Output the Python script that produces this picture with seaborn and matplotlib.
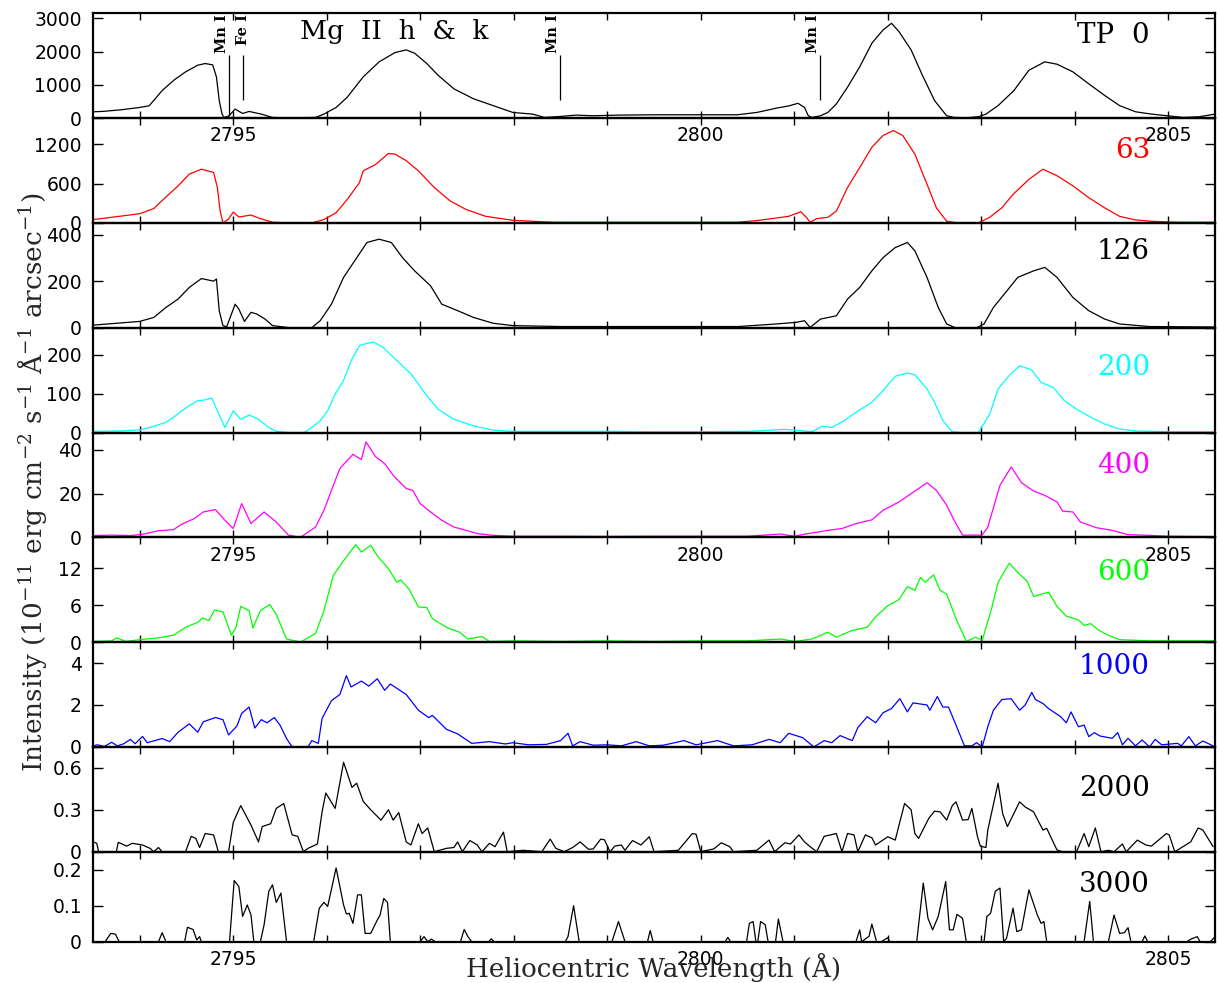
import matplotlib
matplotlib.use("Agg")
import matplotlib.pyplot as plt
from matplotlib.ticker import MultipleLocator, FixedLocator, FuncFormatter
import matplotlib.transforms as mtransforms
import seaborn as sns

# ---------------- data ----------------
wl0 = [2793.50, 2793.60, 2793.80, 2794.00, 2794.10, 2794.15, 2794.24, 2794.37, 2794.49, 2794.62,
       2794.70, 2794.78, 2794.82, 2794.85, 2794.88, 2794.90, 2794.95, 2795.02, 2795.10, 2795.17,
       2795.30, 2795.42, 2795.60, 2795.88, 2795.97, 2796.10, 2796.22, 2796.39, 2796.56, 2796.73,
       2796.85, 2796.94, 2797.07, 2797.19, 2797.36, 2797.57, 2797.78, 2797.99, 2798.20, 2798.33,
       2798.50, 2798.67, 2798.84, 2799.12, 2799.50, 2800.00, 2800.39, 2800.60, 2800.81, 2800.94,
       2801.04, 2801.11, 2801.15, 2801.19, 2801.28, 2801.36, 2801.45, 2801.57, 2801.70, 2801.83,
       2801.95, 2802.04, 2802.12, 2802.25, 2802.37, 2802.50, 2802.63, 2802.71, 2802.85, 2802.97,
       2803.05, 2803.18, 2803.35, 2803.51, 2803.68, 2803.81, 2803.98, 2804.15, 2804.32, 2804.48,
       2804.65, 2804.82, 2804.99, 2805.16, 2805.33, 2805.50]
flux0 = [190, 200, 250, 320, 370, 530, 830, 1150, 1390, 1590,
         1640, 1600, 1240, 530, 120, 20, 60, 270, 140, 200,
         120, 20, 5, 20, 120, 320, 630, 1240, 1690, 1970,
         2050, 1950, 1640, 1290, 880, 580, 375, 170, 120, 20,
         50, 90, 70, 90, 100, 100, 100, 170, 300, 365,
         445, 320, 70, 20, 70, 170, 425, 930, 1540, 2250,
         2650, 2850, 2600, 2050, 1290, 530, 70, 20, 10, 40,
         120, 375, 830, 1440, 1690, 1620, 1390, 1030, 680, 375,
         190, 120, 70, 20, 40, 120]

wl1 = [2793.50, 2794.00, 2794.15, 2794.28, 2794.41, 2794.53, 2794.66, 2794.79, 2794.83, 2794.86,
       2794.89, 2794.95, 2795.00, 2795.06, 2795.19, 2795.29, 2795.42, 2795.60, 2795.84, 2795.97,
       2796.10, 2796.22, 2796.35, 2796.39, 2796.52, 2796.66, 2796.73, 2796.85, 2796.98, 2797.15,
       2797.32, 2797.49, 2797.70, 2797.99, 2798.42, 2799.00, 2800.00, 2800.39, 2800.60, 2800.81,
       2800.94, 2801.07, 2801.13, 2801.17, 2801.24, 2801.36, 2801.45, 2801.57, 2801.70, 2801.83,
       2801.95, 2802.06, 2802.16, 2802.29, 2802.42, 2802.52, 2802.63, 2802.75, 2802.97, 2803.09,
       2803.22, 2803.34, 2803.51, 2803.66, 2803.81, 2803.98, 2804.15, 2804.32, 2804.48, 2804.65,
       2804.82, 2805.10, 2805.50]
flux1 = [50, 140, 220, 395, 565, 745, 820, 770, 540, 180,
         0, 60, 165, 90, 120, 65, 10, 0, 0, 50,
         155, 360, 615, 795, 890, 1060, 1050, 950, 795, 540,
         335, 205, 100, 40, 10, 10, 10, 10, 35, 75,
         100, 170, 85, 10, 65, 85, 180, 540, 845, 1155,
         1335, 1410, 1335, 1050, 590, 230, 25, 0, 0, 85,
         230, 435, 665, 820, 720, 565, 385, 230, 100, 45,
         25, 10, 10]

wl2 = [2793.50, 2794.00, 2794.15, 2794.28, 2794.41, 2794.53, 2794.66, 2794.79, 2794.82, 2794.85,
       2794.89, 2794.93, 2795.02, 2795.06, 2795.12, 2795.19, 2795.25, 2795.34, 2795.42, 2795.60,
       2795.84, 2795.93, 2796.05, 2796.18, 2796.31, 2796.43, 2796.56, 2796.69, 2796.81, 2796.94,
       2797.11, 2797.23, 2797.40, 2797.57, 2797.78, 2797.99, 2798.50, 2799.50, 2800.40, 2800.81,
       2801.02, 2801.11, 2801.17, 2801.28, 2801.45, 2801.57, 2801.70, 2801.83, 2801.95, 2802.08,
       2802.21, 2802.29, 2802.42, 2802.54, 2802.63, 2802.72, 2802.95, 2803.03, 2803.13, 2803.26,
       2803.39, 2803.56, 2803.68, 2803.81, 2803.98, 2804.15, 2804.32, 2804.48, 2804.80, 2805.50]
flux2 = [11, 27, 44, 87, 123, 173, 211, 200, 209, 73,
         9, 4, 101, 80, 27, 66, 59, 37, 9, 0,
         0, 30, 101, 216, 294, 366, 380, 366, 301, 244,
         180, 101, 73, 44, 19, 9, 5, 5, 5, 16,
         23, 30, 1, 37, 51, 123, 173, 244, 301, 344,
         366, 330, 216, 87, 16, 0, 0, 16, 87, 151,
         216, 244, 259, 216, 130, 73, 37, 16, 5, 3]

wl3 = [2793.50, 2793.80, 2794.00, 2794.11, 2794.28, 2794.36, 2794.45, 2794.53, 2794.62, 2794.70,
       2794.77, 2794.83, 2794.91, 2795.00, 2795.08, 2795.17, 2795.27, 2795.38, 2795.46, 2795.60,
       2795.76, 2795.84, 2795.93, 2796.01, 2796.09, 2796.18, 2796.26, 2796.35, 2796.42, 2796.50,
       2796.60, 2796.73, 2796.90, 2797.07, 2797.19, 2797.36, 2797.57, 2797.78, 2797.99, 2798.50,
       2799.00, 2799.50, 2800.00, 2800.50, 2800.90, 2801.02, 2801.19, 2801.30, 2801.40, 2801.53,
       2801.66, 2801.83, 2801.95, 2802.08, 2802.21, 2802.29, 2802.42, 2802.50, 2802.59, 2802.69,
       2802.80, 2802.97, 2803.09, 2803.18, 2803.30, 2803.41, 2803.54, 2803.64, 2803.77, 2803.89,
       2804.02, 2804.19, 2804.32, 2804.48, 2804.65, 2805.00, 2805.50]
flux3 = [3, 4, 7, 13, 26, 39, 56, 69, 82, 84,
         89, 56, 13, 56, 34, 45, 34, 13, 3, 0,
         0, 13, 30, 56, 99, 134, 185, 224, 229, 233,
         220, 190, 151, 95, 60, 34, 17, 6, 3, 3,
         3, 2, 2, 3, 8, 6, 2, 16, 13, 30,
         52, 78, 108, 145, 153, 149, 112, 78, 30, 2,
         0, 0, 47, 112, 147, 172, 161, 129, 116, 82,
         60, 37, 22, 9, 4, 2, 2]

wl4 = [2793.50, 2793.70, 2793.90, 2794.05, 2794.20, 2794.36, 2794.45, 2794.58, 2794.68, 2794.81,
       2794.91, 2795.00, 2795.09, 2795.19, 2795.33, 2795.46, 2795.59, 2795.72, 2795.88, 2795.97,
       2796.05, 2796.14, 2796.28, 2796.37, 2796.42, 2796.52, 2796.62, 2796.71, 2796.85, 2796.92,
       2797.00, 2797.11, 2797.23, 2797.36, 2797.49, 2797.61, 2797.78, 2798.00, 2798.50, 2799.00,
       2799.50, 2800.00, 2800.50, 2800.85, 2801.00, 2801.15, 2801.36, 2801.51, 2801.66, 2801.83,
       2801.95, 2802.12, 2802.25, 2802.42, 2802.52, 2802.63, 2802.71, 2802.80, 2803.01, 2803.07,
       2803.20, 2803.32, 2803.43, 2803.56, 2803.68, 2803.81, 2803.87, 2803.98, 2804.06, 2804.23,
       2804.40, 2804.57, 2804.74, 2805.00, 2805.50]
flux4 = [0.8, 1.0, 0.8, 1.5, 3.0, 3.5, 6.0, 8.5, 11.6, 12.7,
         7.8, 4.0, 15.4, 6.3, 11.6, 7.0, 1.0, 0.0, 4.7, 12.4,
         21.5, 31.5, 38.0, 35.6, 43.7, 37.0, 33.7, 28.4, 22.3, 21.5,
         15.4, 11.6, 7.8, 4.7, 3.2, 1.7, 0.9, 0.5, 0.5, 0.4,
         0.5, 0.5, 0.5, 1.5, 0.5, 1.7, 3.2, 4.0, 6.3, 8.0,
         12.4, 16.2, 20.0, 25.0, 21.5, 14.7, 7.8, 1.0, 1.0, 4.7,
         23.8, 32.2, 25.0, 21.2, 19.2, 16.2, 12.0, 11.6, 7.0, 4.4,
         3.2, 1.2, 1.0, 0.5, 0.3]

wl5 = [2793.50, 2793.70, 2793.75, 2793.85, 2794.00, 2794.20, 2794.36, 2794.49, 2794.62, 2794.67,
       2794.74, 2794.80, 2794.89, 2794.98, 2795.03, 2795.08, 2795.17, 2795.21, 2795.29, 2795.39,
       2795.46, 2795.57, 2795.72, 2795.88, 2795.97, 2796.07, 2796.18, 2796.31, 2796.37, 2796.47,
       2796.54, 2796.66, 2796.75, 2796.79, 2796.88, 2796.98, 2797.07, 2797.13, 2797.28, 2797.42,
       2797.51, 2797.66, 2797.74, 2798.00, 2798.50, 2799.00, 2799.50, 2800.00, 2800.50, 2800.86,
       2801.00, 2801.19, 2801.36, 2801.45, 2801.62, 2801.78, 2801.87, 2802.00, 2802.12, 2802.21,
       2802.29, 2802.35, 2802.40, 2802.49, 2802.56, 2802.63, 2802.73, 2802.84, 2802.94, 2803.01,
       2803.11, 2803.18, 2803.30, 2803.39, 2803.49, 2803.56, 2803.72, 2803.81, 2803.91, 2804.04,
       2804.10, 2804.17, 2804.25, 2804.36, 2804.48, 2804.80, 2805.20, 2805.50]
flux5 = [0.1, 0.2, 0.7, 0.1, 0.4, 0.7, 1.1, 2.4, 3.2, 3.9,
         3.5, 5.2, 4.9, 1.1, 2.4, 5.8, 5.1, 2.3, 5.1, 6.1,
         4.5, 0.5, 0.0, 1.4, 5.1, 10.8, 13.2, 15.8, 14.6, 15.7,
         14.0, 11.9, 9.7, 10.1, 8.6, 5.7, 5.6, 3.8, 2.4, 1.6,
         0.5, 0.9, 0.1, 0.2, 0.1, 0.2, 0.1, 0.2, 0.2, 0.5,
         0.1, 0.5, 1.6, 0.8, 1.9, 2.4, 4.1, 5.9, 6.9, 9.0,
         8.4, 10.5, 9.7, 10.9, 8.4, 7.8, 3.8, 0.1, 0.8, 0.3,
         5.4, 9.7, 12.8, 11.3, 9.9, 7.4, 8.1, 5.8, 4.2, 3.6,
         2.7, 3.0, 2.0, 1.1, 0.4, 0.2, 0.2, 0.2]

wl6 = [2793.50, 2793.55, 2793.62, 2793.70, 2793.76, 2793.83, 2793.90, 2793.95, 2794.03, 2794.08,
       2794.24, 2794.32, 2794.41, 2794.53, 2794.62, 2794.68, 2794.81, 2794.89, 2794.95, 2795.04,
       2795.09, 2795.17, 2795.23, 2795.30, 2795.36, 2795.44, 2795.50, 2795.57, 2795.63, 2795.80,
       2795.84, 2795.91, 2795.95, 2796.05, 2796.14, 2796.21, 2796.26, 2796.37, 2796.45, 2796.54,
       2796.62, 2796.68, 2796.85, 2796.98, 2797.09, 2797.13, 2797.28, 2797.40, 2797.55, 2797.74,
       2797.91, 2797.99, 2798.16, 2798.35, 2798.50, 2798.58, 2798.63, 2798.71, 2798.85, 2799.00,
       2799.15, 2799.31, 2799.45, 2799.60, 2799.82, 2799.95, 2800.18, 2800.35, 2800.55, 2800.73,
       2800.85, 2800.94, 2801.09, 2801.21, 2801.32, 2801.40, 2801.49, 2801.62, 2801.68, 2801.78,
       2801.87, 2801.95, 2802.04, 2802.13, 2802.21, 2802.27, 2802.42, 2802.45, 2802.53, 2802.59,
       2802.65, 2802.73, 2802.82, 2802.90, 2802.95, 2803.01, 2803.07, 2803.13, 2803.22, 2803.32,
       2803.41, 2803.47, 2803.54, 2803.58, 2803.66, 2803.72, 2803.85, 2803.91, 2803.96, 2804.04,
       2804.10, 2804.15, 2804.21, 2804.27, 2804.40, 2804.46, 2804.51, 2804.57, 2804.65, 2804.72,
       2804.80, 2804.86, 2804.93, 2805.10, 2805.14, 2805.22, 2805.29, 2805.37, 2805.48]
flux6 = [0.05, 0.1, 0.02, 0.22, 0.05, 0.15, 0.36, 0.15, 0.5, 0.2,
         0.4, 0.25, 0.7, 1.1, 0.7, 1.2, 1.4, 1.3, 0.57, 1.0,
         1.6, 1.9, 0.9, 1.3, 1.15, 1.4, 1.04, 0.4, 0.0, 0.0,
         0.3, 0.17, 1.36, 2.2, 2.5, 3.4, 2.86, 3.14, 2.9, 3.25,
         2.7, 3.0, 2.5, 1.75, 1.4, 1.5, 0.84, 0.62, 0.17, 0.25,
         0.14, 0.2, 0.1, 0.12, 0.3, 0.65, 0.05, 0.25, 0.08, 0.1,
         0.05, 0.25, 0.05, 0.08, 0.3, 0.1, 0.3, 0.05, 0.1, 0.36,
         0.2, 0.65, 0.44, 0.0, 0.3, 0.2, 0.54, 0.3, 0.92, 1.44,
         1.15, 1.63, 1.83, 2.3, 1.67, 2.1, 2.0, 1.75, 2.4, 1.9,
         1.9, 1.04, 0.05, 0.05, 0.2, 0.0, 0.96, 1.75, 2.26, 2.3,
         1.75, 2.0, 2.6, 2.26, 2.07, 1.83, 1.44, 1.15, 1.67, 0.96,
         1.04, 0.49, 0.68, 0.52, 0.41, 0.68, 0.1, 0.41, 0.05, 0.33,
         0.0, 0.36, 0.1, 0.17, 0.05, 0.49, 0.05, 0.28, 0.05]

wl7 = [2793.50, 2793.54, 2793.56, 2793.75, 2793.77, 2793.86, 2793.92, 2794.03, 2794.11, 2794.15,
       2794.20, 2794.24, 2794.49, 2794.55, 2794.60, 2794.64, 2794.70, 2794.79, 2794.84, 2794.95,
       2795.00, 2795.08, 2795.19, 2795.27, 2795.31, 2795.40, 2795.46, 2795.54, 2795.63, 2795.69,
       2795.75, 2795.80, 2795.90, 2795.95, 2795.99, 2796.09, 2796.18, 2796.27, 2796.32, 2796.39,
       2796.47, 2796.58, 2796.66, 2796.71, 2796.77, 2796.85, 2796.90, 2796.98, 2797.02, 2797.08,
       2797.15, 2797.28, 2797.36, 2797.40, 2797.45, 2797.53, 2797.61, 2797.66, 2797.74, 2797.80,
       2797.89, 2797.93, 2798.10, 2798.30, 2798.39, 2798.45, 2798.54, 2798.63, 2798.71, 2798.80,
       2798.85, 2798.93, 2798.97, 2799.03, 2799.08, 2799.15, 2799.19, 2799.27, 2799.36, 2799.45,
       2799.50, 2799.76, 2799.91, 2799.95, 2800.00, 2800.14, 2800.22, 2800.31, 2800.35, 2800.60,
       2800.73, 2800.79, 2800.90, 2800.96, 2801.05, 2801.11, 2801.17, 2801.24, 2801.32, 2801.45,
       2801.51, 2801.57, 2801.64, 2801.68, 2801.76, 2801.83, 2801.87, 2802.00, 2802.08, 2802.18,
       2802.25, 2802.29, 2802.33, 2802.44, 2802.50, 2802.56, 2802.63, 2802.69, 2802.73, 2802.80,
       2802.86, 2802.90, 2802.96, 2802.99, 2803.05, 2803.07, 2803.18, 2803.23, 2803.28, 2803.41,
       2803.47, 2803.56, 2803.66, 2803.70, 2803.81, 2803.87, 2804.02, 2804.10, 2804.15, 2804.22,
       2804.28, 2804.36, 2804.42, 2804.51, 2804.55, 2804.67, 2804.76, 2804.82, 2804.98, 2805.01,
       2805.07, 2805.24, 2805.32, 2805.37, 2805.48]
flux7 = [0.07, 0.06, 0.0, 0.0, 0.067, 0.04, 0.06, 0.048, 0.024, 0.0,
         0.03, 0.0, 0.0, 0.11, 0.095, 0.03, 0.13, 0.12, 0.0, 0.0,
         0.21, 0.33, 0.19, 0.07, 0.18, 0.2, 0.31, 0.345, 0.12, 0.11,
         0.0, 0.024, 0.055, 0.285, 0.42, 0.31, 0.64, 0.46, 0.49, 0.36,
         0.30, 0.226, 0.30, 0.226, 0.28, 0.07, 0.048, 0.2, 0.13, 0.17,
         0.0, 0.024, 0.03, 0.07, 0.0, 0.08, 0.048, 0.0, 0.06, 0.036,
         0.14, 0.0, 0.01, 0.0, 0.09, 0.024, 0.0, 0.03, 0.07, 0.017,
         0.02, 0.09, 0.085, 0.0, 0.04, 0.048, 0.01, 0.08, 0.048, 0.107,
         0.0, 0.01, 0.13, 0.125, 0.0, 0.02, 0.064, 0.036, 0.0, 0.01,
         0.083, 0.0, 0.064, 0.055, 0.12, 0.07, 0.036, 0.0, 0.11, 0.13,
         0.0, 0.13, 0.12, 0.0, 0.12, 0.1, 0.048, 0.107, 0.083, 0.345,
         0.3, 0.13, 0.095, 0.24, 0.29, 0.285, 0.226, 0.33, 0.357, 0.226,
         0.23, 0.31, 0.107, 0.04, 0.03, 0.155, 0.49, 0.27, 0.18, 0.357,
         0.32, 0.285, 0.155, 0.167, 0.012, 0.0, 0.0, 0.13, 0.036, 0.17,
         0.0, 0.01, 0.0, 0.055, 0.0, 0.083, 0.048, 0.04, 0.13, 0.12,
         0.0, 0.07, 0.17, 0.155, 0.036]

wl8 = [2793.50, 2793.63, 2793.69, 2793.74, 2793.78, 2794.20, 2794.24, 2794.28, 2794.48, 2794.51,
       2794.57, 2794.61, 2794.64, 2794.66, 2794.96, 2795.01, 2795.06, 2795.10, 2795.15, 2795.19,
       2795.22, 2795.29, 2795.33, 2795.38, 2795.42, 2795.46, 2795.51, 2795.57, 2795.86, 2795.92,
       2795.97, 2796.01, 2796.10, 2796.18, 2796.21, 2796.24, 2796.28, 2796.33, 2796.37, 2796.41,
       2796.47, 2796.54, 2796.57, 2796.61, 2796.65, 2796.68, 2797.00, 2797.04, 2797.08, 2797.12,
       2797.16, 2797.43, 2797.47, 2797.51, 2797.55, 2797.73, 2797.76, 2797.79, 2798.55, 2798.58,
       2798.64, 2798.70, 2799.05, 2799.12, 2799.19, 2799.43, 2799.46, 2799.49, 2800.26, 2800.29,
       2800.32, 2800.49, 2800.52, 2800.56, 2800.59, 2800.61, 2800.64, 2800.69, 2800.72, 2800.80,
       2800.83, 2800.88, 2801.66, 2801.70, 2801.72, 2801.80, 2801.83, 2801.88, 2801.93, 2802.00,
       2802.02, 2802.05, 2802.31, 2802.38, 2802.43, 2802.48, 2802.54, 2802.62, 2802.66, 2802.70,
       2802.74, 2802.80, 2802.84, 2803.03, 2803.06, 2803.10, 2803.15, 2803.20, 2803.24, 2803.27,
       2803.34, 2803.38, 2803.43, 2803.51, 2803.60, 2803.64, 2803.67, 2803.70, 2804.10, 2804.16,
       2804.20, 2804.36, 2804.42, 2804.48, 2804.53, 2804.57, 2804.60, 2804.72, 2804.75, 2804.78,
       2805.20, 2805.24, 2805.31, 2805.34, 2805.45, 2805.50]
flux8 = [0.0, 0.0, 0.023, 0.021, 0.0, 0.0, 0.025, 0.0, 0.0, 0.04,
         0.034, 0.005, 0.014, 0.0, 0.0, 0.17, 0.153, 0.07, 0.102, 0.074,
         0.0, 0.0, 0.047, 0.14, 0.158, 0.109, 0.135, 0.0, 0.0, 0.093,
         0.109, 0.098, 0.205, 0.102, 0.077, 0.079, 0.051, 0.13, 0.13, 0.023,
         0.023, 0.06, 0.074, 0.12, 0.109, 0.0, 0.0, 0.014, 0.0, 0.007,
         0.0, 0.0, 0.034, 0.014, 0.0, 0.0, 0.008, 0.0, 0.0, 0.014,
         0.1, 0.0, 0.0, 0.056, 0.0, 0.0, 0.031, 0.0, 0.0, 0.012,
         0.0, 0.0, 0.051, 0.056, 0.0, 0.0, 0.056, 0.047, 0.0, 0.0,
         0.063, 0.0, 0.0, 0.033, 0.0, 0.015, 0.049, 0.0, 0.0, 0.011,
         0.0, 0.0, 0.0, 0.163, 0.065, 0.033, 0.07, 0.167, 0.033, 0.033,
         0.076, 0.065, 0.0, 0.0, 0.07, 0.079, 0.14, 0.149, 0.0, 0.009,
         0.093, 0.028, 0.033, 0.144, 0.074, 0.051, 0.056, 0.0, 0.0, 0.112,
         0.0, 0.0, 0.074, 0.023, 0.025, 0.039, 0.0, 0.0, 0.016, 0.0,
         0.0, 0.007, 0.014, 0.0, 0.0, 0.014]

panel_wl = [wl0, wl1, wl2, wl3, wl4, wl5, wl6, wl7, wl8]
panel_flux = [flux0, flux1, flux2, flux3, flux4, flux5, flux6, flux7, flux8]
panel_labels = ["TP  0", "63", "126", "200", "400", "600", "1000", "2000", "3000"]
panel_colors = ["#000000", "#ff0000", "#000000", "#00ffff", "#ff00ff", "#00ff00", "#0000ff", "#000000", "#000000"]
y_ticks = [[0, 1000, 2000, 3000], [0, 600, 1200], [0, 200, 400], [0, 100, 200], [0, 20, 40],
           [0, 6, 12], [0, 2, 4], [0, 0.3, 0.6], [0, 0.1, 0.2]]
y_tops = [3150, 1600, 450, 270, 48, 17, 5.0, 0.75, 0.25]
x_tick_labels = [2795, 2800, 2805]
x_range = (2793.5, 2805.5)

# spectral line identifications in the top panel
line_wl = [2794.95, 2795.10, 2798.49, 2801.28]
line_names = ["Mn I", "Fe I", "Mn I", "Mn I"]
line_low = [70, 530, 530, 530]
line_high = [1890, 1890, 1890, 1890]
title_text = "Mg  II  h  &  k"

# ---------------- style ----------------
sns.set_style("ticks")
plt.rcParams["font.family"] = ["DejaVu Sans"]
plt.rcParams["mathtext.fontset"] = "dejavuserif"
SERIF = ["DejaVu Serif"]

W, H = 1219, 983
fig = plt.figure(figsize=(W / 100, H / 100), dpi=100)
fig.patch.set_facecolor("white")
gs = fig.add_gridspec(9, 1, height_ratios=[104.8] * 8 + [90], hspace=0,
                      left=93 / W, right=1215 / W, top=1 - 13.3 / H, bottom=1 - 941.7 / H)

label_pos_y = [0.714, 0.62, 0.655, 0.551, 0.617, 0.589, 0.693, 0.532, 0.552]
show_xlabels = [0, 4, 8]

axes = []
for i in range(9):
    ax = fig.add_subplot(gs[i])
    ax.patch.set_alpha(0)
    sns.lineplot(x=panel_wl[i], y=panel_flux[i], ax=ax, color=panel_colors[i],
                 linewidth=0.9, estimator=None, sort=False)
    ax.set_xlim(*x_range)
    ax.set_ylim(0, y_tops[i])
    ax.set_xlabel("")
    ax.set_ylabel("")
    ax.xaxis.set_major_locator(MultipleLocator(1))
    ax.yaxis.set_major_locator(FixedLocator(y_ticks[i]))
    ax.yaxis.set_major_formatter(FuncFormatter(lambda v, p: f"{v:g}"))
    ax.xaxis.set_major_formatter(FuncFormatter(
        lambda v, p: f"{int(round(v))}" if (abs(v - round(v)) < 1e-6 and int(round(v)) in x_tick_labels) else ""))
    ax.tick_params(axis="x", direction="in", top=True, bottom=True, length=5.0, width=1.0,
                   labelsize=13.5, pad=6.0, labelbottom=(i in show_xlabels), colors="black")
    ax.tick_params(axis="y", direction="in", left=True, right=True, length=7.0, width=1.0,
                   labelsize=13.5, pad=8.0, colors="black")
    for s in ax.spines.values():
        s.set_linewidth(1.6)
        s.set_color("black")
        s.set_visible(True)
    ax.text(0.942, label_pos_y[i], panel_labels[i], transform=ax.transAxes, ha="right",
            va="baseline", fontsize=20, family=SERIF, color=panel_colors[i])
    axes.append(ax)

# top panel annotations
ax0 = axes[0]
trans = mtransforms.blended_transform_factory(ax0.transData, ax0.transAxes)
for k in range(len(line_wl)):
    ax0.vlines(line_wl[k], line_low[k], line_high[k], color="black", linewidth=0.9)
    ax0.text(line_wl[k], 0.99, line_names[k], transform=trans, rotation=90,
             ha=("center" if line_names[k] == "Fe I" else "right"), va="top",
             fontsize=10.5, family=SERIF, fontweight="bold", color="black")
ax0.text(0.1845, 0.753, title_text, transform=ax0.transAxes, ha="left", va="baseline",
         fontsize=19, family=SERIF, color="black")

fig.text(0.0262, 1 - 482 / H,
         r"Intensity (10$^{-11}$ erg cm$^{-2}$ s$^{-1}$ Å$^{-1}$ arcsec$^{-1}$)",
         rotation=90, ha="center", va="center", fontsize=19, family=SERIF)
fig.text((93 + 1215) / 2 / W, 1 - 977 / H, "Heliocentric Wavelength (Å)",
         ha="center", va="baseline", fontsize=18.8, family=SERIF)

fig.savefig("out.png", dpi=100, facecolor="white")
